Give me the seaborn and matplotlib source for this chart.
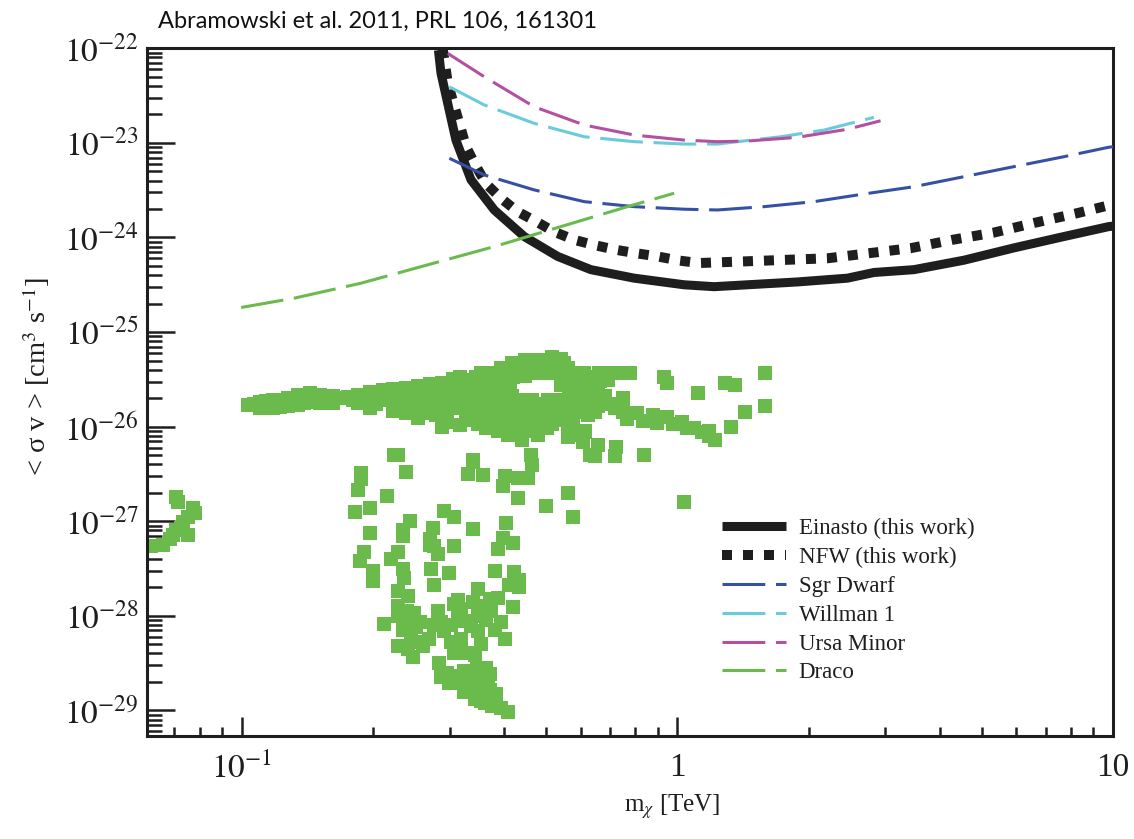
import numpy as np
import pandas as pd
import matplotlib
matplotlib.use("Agg")
import matplotlib.pyplot as plt
from matplotlib.ticker import LogLocator, NullFormatter, FixedLocator, FixedFormatter
import seaborn as sns

# ---------------------------------------------------------------- limits (mass in TeV, <sigma v> in cm^3/s)
x_limits = (10 ** -1.218, 10.0)
y_limits = (10 ** -29.27, 1e-22)

# ---------------------------------------------------------------- exclusion curves: mass [TeV], log10 <sigma v>
einasto_mass = [0.2826, 0.2865, 0.310, 0.3357, 0.3798, 0.4449, 0.5307, 0.6327, 0.7957, 1.036,
                1.214, 1.447, 1.884, 2.455, 2.825, 3.49, 4.547, 5.92, 7.71, 9.77, 10.0]
einasto_log_sv = [-22.02, -22.265, -22.97, -23.39, -23.71, -23.99, -24.20, -24.34, -24.43, -24.50,
                  -24.52, -24.50, -24.47, -24.43, -24.37, -24.34, -24.24, -24.11, -23.99, -23.885, -23.88]

nfw_mass = [0.289, 0.297, 0.327, 0.3418, 0.3633, 0.3933, 0.4296, 0.4732, 0.5214, 0.5796, 0.644,
            0.722, 0.802, 0.8998, 1.009, 1.121, 1.397, 1.757, 2.208, 2.753, 3.43, 4.273, 5.325,
            6.634, 8.27, 9.85, 10.0]
nfw_log_sv = [-22.0, -22.37, -23.04, -23.215, -23.43, -23.585, -23.727, -23.83, -23.94, -24.025, -24.08,
              -24.13, -24.166, -24.20, -24.244, -24.27, -24.254, -24.237, -24.22, -24.166, -24.113, -24.025,
              -23.948, -23.843, -23.743, -23.656, -23.65]

sgr_mass = [0.2995, 0.3602, 0.469, 0.611, 0.796, 1.036, 1.235, 1.58, 2.058, 2.68, 3.49, 4.547,
            5.92, 7.71, 9.77, 10.0]
sgr_log_sv = [-23.163, -23.339, -23.497, -23.621, -23.674, -23.701, -23.709, -23.674, -23.621, -23.54,
              -23.463, -23.357, -23.251, -23.146, -23.046, -23.04]

willman_mass = [0.2995, 0.3602, 0.469, 0.611, 0.796, 1.036, 1.235, 1.373, 1.726, 2.17, 2.825]
willman_log_sv = [-22.407, -22.599, -22.793, -22.935, -22.987, -23.012, -23.012, -22.987, -22.935,
                  -22.864, -22.73]

ursa_mass = [0.297, 0.3602, 0.469, 0.611, 0.796, 1.036, 1.235, 1.447, 1.884, 2.455, 2.926]
ursa_log_sv = [-22.054, -22.301, -22.618, -22.811, -22.917, -22.97, -22.987, -22.98, -22.941,
               -22.856, -22.766]

draco_mass = [0.0996, 0.132, 0.1877, 0.267, 0.3798, 0.5398, 0.768, 0.9827]
draco_log_sv = [-24.74, -24.641, -24.483, -24.289, -24.096, -23.885, -23.674, -23.532]

# ---------------------------------------------------------------- model points: (log10 mass [TeV], log10 <sigma v>)
points_low_mass = [
    (-1.151, -26.74), (-1.147, -26.80), (-1.112, -26.86), (-1.108, -26.91), (-1.124, -26.96),
    (-1.135, -27.01), (-1.151, -27.09), (-1.124, -27.14), (-1.140, -27.07), (-1.165, -27.19),
    (-1.181, -27.25), (-1.209, -27.26), (-1.158, -27.15),
]

points_band_left = [
    (-0.986, -25.77), (-0.959, -25.74), (-0.959, -25.80), (-0.929, -25.72), (-0.929, -25.80),
    (-0.894, -25.70), (-0.894, -25.78), (-0.872, -25.67), (-0.872, -25.77), (-0.844, -25.64),
    (-0.844, -25.74), (-0.821, -25.66), (-0.821, -25.75), (-0.791, -25.68), (-0.791, -25.75),
    (-0.757, -25.69), (-0.734, -25.67), (-0.734, -25.75), (-0.706, -25.63), (-0.706, -25.72),
    (-0.706, -25.80), (-0.677, -25.61), (-0.677, -25.72), (-0.654, -25.60), (-0.654, -25.77),
    (-0.654, -25.83), (-0.624, -25.59), (-0.624, -25.68), (-0.624, -25.86), (-0.596, -25.57),
    (-0.596, -25.66), (-0.596, -25.78), (-0.596, -25.91), (-0.569, -25.55), (-0.569, -25.66),
    (-0.569, -25.82), (-0.541, -25.54), (-0.541, -25.69), (-0.541, -25.93), (-0.541, -26.00),
    (-0.516, -25.50), (-0.516, -25.63), (-0.516, -25.76), (-0.500, -25.48), (-0.500, -25.66),
    (-0.500, -25.98),
    (-0.972, -25.76), (-0.945, -25.73), (-0.913, -25.72), (-0.913, -25.79), (-0.883, -25.70),
    (-0.858, -25.68), (-0.858, -25.75), (-0.833, -25.69), (-0.807, -25.70), (-0.775, -25.70),
    (-0.745, -25.72), (-0.720, -25.70), (-0.693, -25.66), (-0.693, -25.76), (-0.665, -25.66),
    (-0.642, -25.64), (-0.642, -25.72), (-0.642, -25.80), (-0.610, -25.62), (-0.610, -25.74),
    (-0.610, -25.84), (-0.583, -25.61), (-0.583, -25.72), (-0.583, -25.86), (-0.555, -25.60),
    (-0.555, -25.75), (-0.555, -25.88), (-0.528, -25.58), (-0.528, -25.70), (-0.528, -25.84),
    (-0.528, -25.95),
]

points_band_core = [
    (-0.351, -25.29), (-0.321, -25.29), (-0.287, -25.26), (-0.268, -25.28),
    (-0.406, -25.38), (-0.367, -25.38), (-0.337, -25.38), (-0.303, -25.36), (-0.275, -25.36), (-0.252, -25.38),
    (-0.463, -25.47), (-0.436, -25.47), (-0.378, -25.47), (-0.351, -25.46), (-0.236, -25.47), (-0.200, -25.47),
    (-0.122, -25.43), (-0.108, -25.43),
    (-0.493, -25.56), (-0.463, -25.56), (-0.436, -25.56), (-0.401, -25.56), (-0.385, -25.56), (-0.268, -25.56),
    (-0.241, -25.56), (-0.177, -25.52), (-0.030, -25.47), (-0.023, -25.54), (0.110, -25.54), (0.131, -25.56),
    (-0.493, -25.64), (-0.470, -25.64), (-0.443, -25.64), (-0.413, -25.64), (-0.390, -25.64), (-0.229, -25.64),
    (-0.183, -25.62), (0.046, -25.64),
    (-0.482, -25.72), (-0.459, -25.72), (-0.424, -25.72), (-0.401, -25.72), (-0.367, -25.72), (-0.333, -25.72),
    (-0.298, -25.72), (-0.264, -25.72), (-0.229, -25.72), (-0.167, -25.68), (-0.126, -25.70),
    (-0.500, -25.80), (-0.470, -25.80), (-0.440, -25.80), (-0.413, -25.80), (-0.385, -25.80), (-0.356, -25.80),
    (-0.321, -25.80), (-0.287, -25.80), (-0.252, -25.80), (-0.218, -25.80), (-0.183, -25.78), (-0.144, -25.80),
    (0.202, -25.78),
    (-0.470, -25.88), (-0.436, -25.88), (-0.401, -25.88), (-0.367, -25.88), (-0.333, -25.88), (-0.303, -25.88),
    (-0.271, -25.88), (-0.241, -25.88), (-0.206, -25.88),
    (-0.459, -25.97), (-0.424, -25.97), (-0.390, -25.97), (-0.356, -25.97), (-0.321, -25.97), (-0.287, -25.97),
    (-0.413, -26.05), (-0.378, -26.05), (-0.339, -26.05), (-0.252, -26.05), (-0.213, -26.05),
    (-0.356, -26.14), (-0.218, -26.14),
    (0.200, -25.43), (0.154, -25.85), (0.122, -26.00), (0.015, -26.80),
    (-0.450, -25.43), (-0.420, -25.43), (-0.390, -25.43), (-0.360, -25.43), (-0.330, -25.43), (-0.300, -25.43),
    (-0.270, -25.43), (-0.245, -25.43), (-0.215, -25.43), (-0.180, -25.43), (-0.150, -25.43),
    (-0.380, -25.33), (-0.355, -25.33), (-0.310, -25.33), (-0.260, -25.33),
    (-0.480, -25.51), (-0.450, -25.51), (-0.420, -25.51), (-0.390, -25.51), (-0.240, -25.51), (-0.210, -25.51),
    (-0.160, -25.51),
    (-0.480, -25.60), (-0.455, -25.60), (-0.430, -25.60), (-0.400, -25.60), (-0.250, -25.60), (-0.200, -25.60),
    (-0.470, -25.68), (-0.440, -25.68), (-0.410, -25.68), (-0.380, -25.68), (-0.235, -25.68), (-0.200, -25.68),
    (-0.490, -25.76), (-0.455, -25.76), (-0.425, -25.76), (-0.395, -25.76), (-0.370, -25.76), (-0.340, -25.76),
    (-0.310, -25.76), (-0.275, -25.76), (-0.245, -25.76), (-0.210, -25.76), (-0.175, -25.76), (-0.145, -25.76),
    (-0.485, -25.84), (-0.455, -25.84), (-0.420, -25.84), (-0.385, -25.84), (-0.350, -25.84), (-0.315, -25.84),
    (-0.285, -25.84), (-0.255, -25.84), (-0.225, -25.84), (-0.190, -25.84),
    (-0.475, -25.93), (-0.440, -25.93), (-0.405, -25.93), (-0.370, -25.93), (-0.340, -25.93), (-0.305, -25.93),
    (-0.270, -25.93),
    (-0.440, -26.01), (-0.400, -26.01), (-0.365, -26.01), (-0.330, -26.01), (-0.300, -26.01), (-0.240, -26.01),
    (-0.390, -26.09), (-0.360, -26.09), (-0.320, -26.09), (-0.230, -26.09),
]

points_tail = [
    (-0.126, -25.84), (-0.115, -25.92), (-0.092, -25.86), (-0.080, -25.94), (-0.057, -25.88),
    (-0.046, -25.96), (-0.023, -25.90), (-0.011, -25.97), (0.011, -25.95), (0.023, -26.01),
    (0.039, -26.01), (0.057, -26.06), (0.073, -26.10), (0.087, -26.14), (0.073, -26.05),
]

points_below_band = [
    (-0.183, -26.19), (-0.190, -26.31), (-0.142, -26.22), (-0.144, -26.31), (-0.076, -26.30),
    (-0.252, -26.11), (-0.213, -26.06), (-0.218, -26.16), (-0.337, -26.30), (-0.333, -26.40),
    (-0.470, -26.35), (-0.642, -26.30),
]

points_funnel = [
    (-0.650, -26.30), (-0.726, -26.49), (-0.727, -26.55), (-0.623, -26.48), (-0.470, -26.37),
    (-0.482, -26.50), (-0.447, -26.51), (-0.397, -26.52), (-0.401, -26.63), (-0.367, -26.54),
    (-0.344, -26.54), (-0.200, -26.30), (-0.734, -26.67), (-0.667, -26.73), (-0.367, -26.75),
    (-0.740, -26.90), (-0.707, -26.86), (-0.535, -26.89), (-0.512, -26.95), (-0.302, -26.84),
    (-0.252, -26.70), (-0.241, -26.96), (-0.615, -27.00), (-0.631, -27.09), (-0.631, -27.16),
    (-0.562, -27.07), (-0.569, -27.19), (-0.569, -27.25), (-0.470, -27.08), (-0.394, -27.02),
    (-0.401, -27.18), (-0.378, -27.23), (-0.413, -27.29), (-0.705, -27.12), (-0.719, -27.32),
    (-0.730, -27.42), (-0.658, -27.40), (-0.642, -27.32), (-0.558, -27.26), (-0.550, -27.35),
    (-0.512, -27.26), (-0.700, -27.53), (-0.700, -27.63), (-0.631, -27.51), (-0.627, -27.60),
    (-0.566, -27.51), (-0.524, -27.55), (-0.420, -27.53), (-0.375, -27.54), (-0.363, -27.62),
    (-0.386, -27.67), (-0.363, -27.70), (-0.642, -27.74), (-0.619, -27.79), (-0.558, -27.67),
    (-0.459, -27.72), (-0.413, -27.81), (-0.378, -27.91), (-0.505, -27.83), (-0.642, -27.90),
    (-0.604, -27.97), (-0.642, -28.00), (-0.627, -28.07), (-0.673, -28.09), (-0.592, -28.07),
    (-0.543, -28.06), (-0.535, -28.16), (-0.512, -27.88), (-0.497, -27.93), (-0.505, -28.02),
    (-0.451, -27.90), (-0.459, -28.00), (-0.428, -27.95), (-0.405, -28.07), (-0.474, -28.11),
    (-0.459, -28.16), (-0.397, -28.25), (-0.642, -28.32), (-0.612, -28.21), (-0.619, -28.35),
    (-0.585, -28.32), (-0.608, -28.43), (-0.547, -28.50), (-0.512, -28.39), (-0.497, -28.25),
    (-0.482, -28.39), (-0.466, -28.41), (-0.543, -28.65), (-0.512, -28.64), (-0.489, -28.58),
    (-0.497, -28.71), (-0.474, -28.67), (-0.451, -28.64), (-0.440, -28.55), (-0.489, -28.81),
    (-0.459, -28.78), (-0.436, -28.71), (-0.466, -28.88), (-0.436, -28.86), (-0.417, -28.92),
    (-0.417, -28.83), (-0.390, -29.02), (-0.524, -28.71), (-0.443, -28.92),
    (-0.530, -28.60), (-0.480, -28.72), (-0.455, -28.80), (-0.430, -28.78), (-0.450, -28.90),
    (-0.425, -28.95), (-0.405, -28.97), (-0.460, -28.55), (-0.430, -28.62),
    (-0.620, -27.95), (-0.600, -28.12), (-0.560, -28.10), (-0.520, -28.10), (-0.490, -28.05),
    (-0.440, -28.04), (-0.420, -28.15), (-0.450, -28.30), (-0.520, -28.28), (-0.570, -28.25),
    (-0.600, -28.28), (-0.630, -28.15), (-0.550, -27.95), (-0.470, -27.85), (-0.430, -27.82),
]

# ---------------------------------------------------------------- axis text
title_text = "Abramowski et al. 2011, PRL 106, 161301"
x_label = r"m$_\chi$ [TeV]"
y_label = r"< σ v > [cm$^{3}$ s$^{-1}$]"
x_major = [0.1, 1.0, 10.0]
x_major_labels = [r"$10^{-1}$", "1", "10"]
y_exponents = [-29, -28, -27, -26, -25, -24, -23, -22]

# ---------------------------------------------------------------- colours
c_black = "#1e1e1e"
c_green = "#6aba4c"
c_blue = "#3651a3"
c_cyan = "#6acbdc"
c_magenta = "#b4509f"

sns.set_theme(style="white")
plt.rcParams.update({
    "font.family": ["Liberation Serif", "DejaVu Serif"],
    "mathtext.fontset": "stix",
    "axes.edgecolor": c_black,
    "axes.linewidth": 2.2,
    "xtick.bottom": True,
    "ytick.left": True,
})

fig = plt.figure(figsize=(11.34, 8.39), dpi=100)
ax = fig.add_axes([0.1296, 0.1228, 0.8519, 0.8196])
ax.set_xscale("log")
ax.set_yscale("log")

# model scan points
pts = points_low_mass + points_band_left + points_band_core + points_tail + points_below_band + points_funnel
scan = pd.DataFrame(pts, columns=["log_mass", "log_sv"])
scan["mass"] = 10.0 ** scan["log_mass"]
scan["sv"] = 10.0 ** scan["log_sv"]
sns.scatterplot(data=scan, x="mass", y="sv", ax=ax, marker="s", s=88, color=c_green,
                linewidth=0, legend=False, zorder=2)


def curve(mass, log_sv, name, color, lw, ls):
    df = pd.DataFrame({"mass": mass, "sv": 10.0 ** np.asarray(log_sv)})
    sns.lineplot(data=df, x="mass", y="sv", ax=ax, color=color, linewidth=lw,
                 linestyle=ls, label=name, sort=False, estimator=None, zorder=3,
                 solid_capstyle="butt", solid_joinstyle="round")


dash = (0, (14, 3.5))
curve(einasto_mass, einasto_log_sv, "Einasto (this work)", c_black, 6.5, "-")
curve(nfw_mass, nfw_log_sv, "NFW (this work)", c_black, 7.2, (0, (1.0, 1.1)))
curve(sgr_mass, sgr_log_sv, "Sgr Dwarf", c_blue, 2.2, dash)
curve(willman_mass, willman_log_sv, "Willman 1", c_cyan, 2.2, dash)
curve(ursa_mass, ursa_log_sv, "Ursa Minor", c_magenta, 2.2, dash)
curve(draco_mass, draco_log_sv, "Draco", c_green, 2.2, dash)

ax.set_xlim(*x_limits)
ax.set_ylim(*y_limits)

# ticks: inward, on left and bottom only
ax.xaxis.set_major_locator(FixedLocator(x_major))
ax.xaxis.set_major_formatter(FixedFormatter(x_major_labels))
ax.xaxis.set_minor_locator(LogLocator(base=10, subs=np.arange(2, 10)))
ax.xaxis.set_minor_formatter(NullFormatter())
y_major = [10.0 ** e for e in y_exponents]
ax.yaxis.set_major_locator(FixedLocator(y_major))
ax.yaxis.set_major_formatter(FixedFormatter([r"$10^{%d}$" % e for e in y_exponents]))
ax.yaxis.set_minor_locator(LogLocator(base=10, subs=np.arange(2, 10), numticks=20))
ax.yaxis.set_minor_formatter(NullFormatter())

ax.tick_params(axis="both", which="both", direction="in", color=c_black, width=1.8,
               bottom=True, left=True, top=False, right=False, labelcolor=c_black)
ax.tick_params(axis="y", which="major", length=20, pad=6, labelsize=24)
ax.tick_params(axis="y", which="minor", length=11)
ax.tick_params(axis="x", which="major", length=14, pad=12, labelsize=24)
ax.tick_params(axis="x", which="minor", length=6.5)

ax.set_xlabel(x_label, fontsize=18, color=c_black)
ax.set_ylabel(y_label, fontsize=20.5, color=c_black)
ax.xaxis.set_label_coords(0.544, -0.082)
ax.yaxis.set_label_coords(-0.098, 0.523)

handles, labels = ax.get_legend_handles_labels()
ax.legend(handles, labels, loc="upper left", bbox_to_anchor=(0.595, 0.317), frameon=False,
          fontsize=16.5, borderpad=0, borderaxespad=0, handlelength=2.8, handletextpad=0.55,
          labelspacing=0.34, labelcolor=c_black)

fig.text(158 / 1134, 1 - 28 / 839, title_text, fontsize=17, family="Lato", color="#111111",
         ha="left", va="baseline")

fig.savefig("out.png", dpi=100)
